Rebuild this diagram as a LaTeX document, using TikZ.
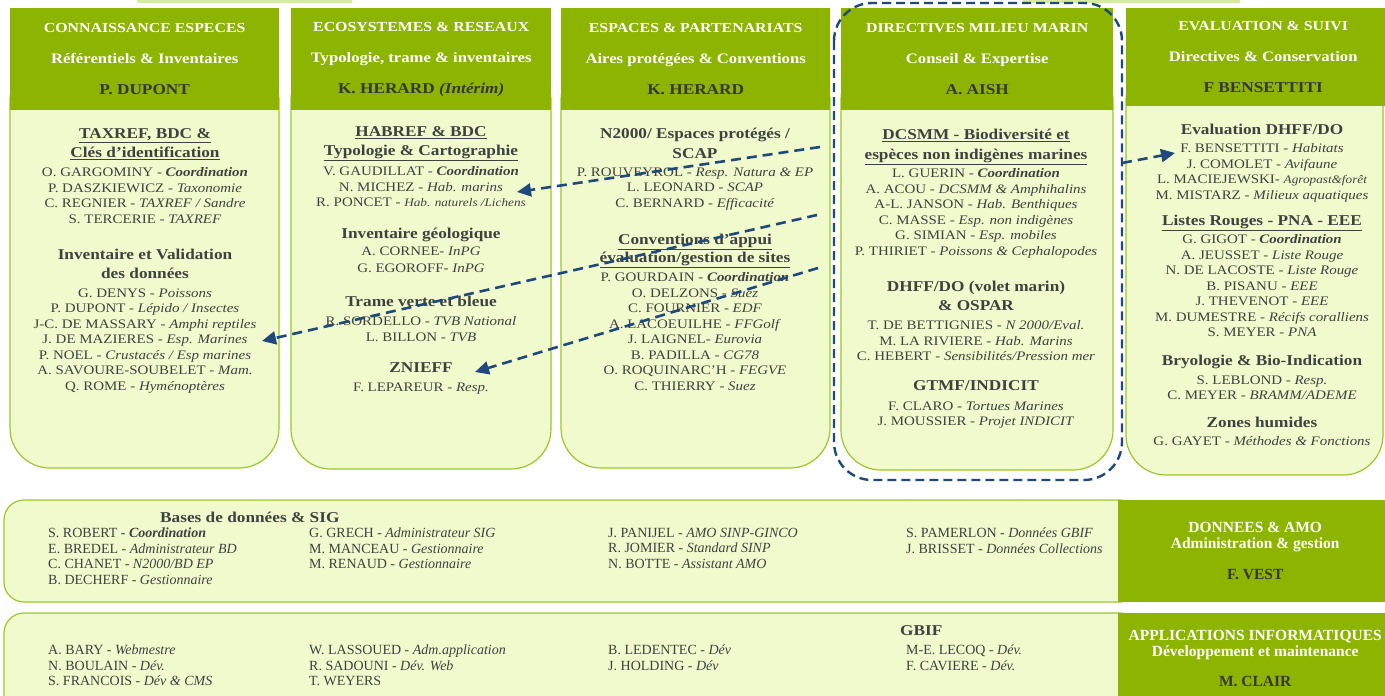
\documentclass[tikz,border=0pt]{standalone}
\usepackage{fontspec}
\setmainfont{Liberation Serif}[FakeStretch=1.15]
\newfontfamily\condfont{Liberation Serif}
\usepackage{tikz}
\usetikzlibrary{arrows.meta}

\definecolor{hdrgreen}{RGB}{140,180,0}
\definecolor{bodyfill}{RGB}{241,250,204}
\definecolor{bodyline}{RGB}{155,200,40}
\definecolor{txtgray}{RGB}{64,64,64}
\definecolor{chef}{RGB}{55,55,55}
\definecolor{linkblue}{RGB}{31,73,125}
\definecolor{topbar}{RGB}{215,235,160}

% en-tete de pole : titre, sous-titre, responsable
\newcommand\entete[3]{{\fontsize{13.8}{17}\selectfont #1}\\[14pt]{\fontsize{14.5}{17}\selectfont #2}\\[14pt]{\color{chef}\fontsize{15}{17}\selectfont #3}}

\begin{document}
\begin{tikzpicture}[x=1pt,y=-1pt,
  hdr/.style={fill=hdrgreen,text=white,font=\bfseries\fontsize{14.5}{17}\selectfont,align=center,inner sep=0pt,anchor=north west,minimum height=102pt},
  body/.style={fill=bodyfill,draw=bodyline,line width=1.2pt,rounded corners=40pt},
  titre/.style={text=txtgray,font=\bfseries\fontsize{15}{19}\selectfont,align=center,anchor=north,inner sep=0pt},
  noms/.style={text=txtgray,font=\fontsize{13}{15.5}\selectfont,align=center,anchor=north,inner sep=0pt},
  liste/.style={text=txtgray,font=\condfont\fontsize{14}{15.5}\selectfont,align=left,anchor=north west,inner sep=0pt},
  sstitre/.style={text=txtgray,font=\bfseries\fontsize{15}{18}\selectfont,anchor=west,inner sep=0pt},
  lien/.style={draw=linkblue,line width=2.6pt,dash pattern=on 10pt off 6pt,-{Triangle[length=14pt,width=13pt]}},
  cadre/.style={draw=linkblue,line width=2.4pt,dash pattern=on 9pt off 5pt,rounded corners=38pt}]
\useasboundingbox (0,0) rectangle (1385,696);
\clip (0,0) rectangle (1385,696);

% bandeaux du haut
\fill[topbar] (137,0) rectangle (352,2.5);
\fill[topbar] (1023,0) rectangle (1240,2.5);

% corps des poles
\draw[body] (10,60) rectangle (279,468);
\draw[body] (291,60) rectangle (551,469);
\draw[body] (561,60) rectangle (830,468);
\draw[body] (841,60) rectangle (1113,470);
\draw[body] (1126,60) rectangle (1383,475);

% en-tetes
\node[hdr,minimum width=269pt] (h1) at (10,8) {\entete{CONNAISSANCE ESPECES}{Référentiels \& Inventaires}{P. DUPONT}};
\node[hdr,minimum width=260pt] (h2) at (291,8) {\entete{ECOSYSTEMES \& RESEAUX}{Typologie, trame \& inventaires}{K. HERARD \textit{(Intérim)}}};
\node[hdr,minimum width=269pt] (h3) at (561,8) {\entete{ESPACES \& PARTENARIATS}{Aires protégées \& Conventions}{K. HERARD}};
\node[hdr,minimum width=272pt] (h4) at (841,8) {\entete{DIRECTIVES MILIEU MARIN}{Conseil \& Expertise}{A. AISH}};
\node[hdr,minimum width=274pt,minimum height=98pt] (h5) at (1126,8) {\entete{EVALUATION \& SUIVI}{Directives \& Conservation}{F BENSETTITI}};

% connaissance especes
\node[titre] (c1t1) at (145,128.6) {\underline{TAXREF, BDC \&}\\\underline{Clés d’identification}};
\node[noms] (c1n1) at (145,167.3) {O. GARGOMINY - \textbf{\textit{Coordination}}\\P. DASZKIEWICZ - \textit{Taxonomie}\\C. REGNIER - \textit{TAXREF / Sandre}\\S. TERCERIE - \textit{TAXREF}};
\node[titre] (c1t2) at (145,248.6) {Inventaire et Validation\\des données};
\node[noms] (c1n2) at (145,288.3) {G. DENYS - \textit{Poissons}\\P. DUPONT - \textit{Lépido / Insectes}\\J-C. DE MASSARY - \textit{Amphi reptiles}\\J. DE MAZIERES - \textit{Esp. Marines}\\P. NOEL - \textit{Crustacés / Esp marines}\\A. SAVOURE-SOUBELET - \textit{Mam.}\\Q. ROME - \textit{Hyménoptères}};

% ecosystemes et reseaux
\node[titre] (c2t1) at (421,126.6) {\underline{HABREF \& BDC}\\\underline{Typologie \& Cartographie}};
\node[noms] (c2n1) at (421,166.3) {V. GAUDILLAT - \textbf{\textit{Coordination}}\\N. MICHEZ - \textit{Hab. marins}\\R. PONCET - {\fontsize{11.5}{15.5}\selectfont\itshape Hab. naturels /Lichens}};
\node[titre] (c2t2) at (421,227.6) {Inventaire géologique};
\node[noms,font=\fontsize{13}{17}\selectfont] (c2n2) at (421,246.3) {A. CORNEE- \textit{InPG}\\G. EGOROFF- \textit{InPG}};
\node[titre] (c2t3) at (421,295.6) {Trame verte et bleue};
\node[noms,font=\fontsize{13}{16}\selectfont] (c2n3) at (421,316.3) {R. SORDELLO - \textit{TVB National}\\L. BILLON - \textit{TVB}};
\node[titre] (c2t4) at (421,362.6) {ZNIEFF};
\node[noms] (c2n4) at (421,382.3) {F. LEPAREUR - \textit{Resp.}};

% espaces et partenariats
\node[titre,font=\bfseries\fontsize{15}{20}\selectfont] (c3t1) at (695,127.6) {N2000/ Espaces protégés /\\SCAP};
\node[noms] (c3n1) at (695,167.3) {P. ROUVEYROL - \textit{Resp. Natura \& EP}\\L. LEONARD - \textit{SCAP}\\C. BERNARD - \textit{Efficacité}};
\node[titre,font=\bfseries\fontsize{15}{18}\selectfont] (c3t2) at (695,233.6) {\underline{Conventions d’appui}\\\underline{évaluation/gestion de sites}};
\node[noms] (c3n2) at (695,272.3) {P. GOURDAIN - \textbf{\textit{Coordination}}\\O. DELZONS - \textit{Suez}\\C. FOURNIER -  \textit{EDF}\\A. LACOEUILHE - \textit{FFGolf}\\J. LAIGNEL- \textit{Eurovia}\\B. PADILLA - \textit{CG78}\\O. ROQUINARC’H - \textit{FEGVE}\\C. THIERRY - \textit{Suez}};

% directives milieu marin
\node[titre,font=\bfseries\fontsize{15}{20}\selectfont] (c4t1) at (976,128.6) {\underline{DCSMM - Biodiversité et}\\\underline{espèces non indigènes marines}};
\node[noms] (c4n1) at (976,168.3) {L. GUERIN - \textbf{\textit{Coordination}}\\A. ACOU - \textit{DCSMM \& Amphihalins}\\A-L. JANSON - \textit{Hab. Benthiques}\\C. MASSE - \textit{Esp. non indigènes}\\G. SIMIAN - \textit{Esp. mobiles}\\P. THIRIET - \textit{Poissons \& Cephalopodes}};
\node[titre] (c4t2) at (976,280.6) {DHFF/DO (volet marin)\\\& OSPAR};
\node[noms] (c4n2) at (976,320.3) {T. DE BETTIGNIES - \textit{N 2000/Eval.}\\M. LA RIVIERE - \textit{Hab. Marins}\\C. HEBERT - \textit{Sensibilités/Pression mer}};
\node[titre] (c4t3) at (976,380.6) {GTMF/INDICIT};
\node[noms] (c4n3) at (976,401.3) {F. CLARO - \textit{Tortues Marines}\\J. MOUSSIER - \textit{Projet INDICIT}};

% evaluation et suivi
\node[titre] (c5t1) at (1262,123.6) {Evaluation DHFF/DO};
\node[noms] (c5n1) at (1262,143.3) {F. BENSETTITI - \textit{Habitats}\\J. COMOLET - \textit{Avifaune}\\L. MACIEJEWSKI- {\fontsize{11.5}{15.5}\selectfont\itshape Agropast\&forêt}\\M. MISTARZ  - \textit{Milieux aquatiques}};
\node[titre] (c5t2) at (1262,214.6) {\underline{Listes Rouges - PNA - EEE}};
\node[noms] (c5n2) at (1262,234.3) {G. GIGOT - \textbf{\textit{Coordination}}\\A. JEUSSET - \textit{Liste Rouge}\\N. DE LACOSTE - \textit{Liste Rouge}\\B. PISANU - \textit{EEE}\\J. THEVENOT - \textit{EEE}\\M. DUMESTRE -  \textit{Récifs coralliens}\\S. MEYER - \textit{PNA}};
\node[titre] (c5t3) at (1262,354.6) {Bryologie \& Bio-Indication};
\node[noms] (c5n3) at (1262,375.3) {S. LEBLOND - \textit{Resp.}\\C. MEYER - \textit{BRAMM/ADEME}};
\node[titre] (c5t4) at (1262,416.6) {Zones humides};
\node[noms] (c5n4) at (1262,436.3) {G. GAYET - \textit{Méthodes \& Fonctions}};

% donnees et AMO
\draw[body,rounded corners=20pt] (4,500) rectangle (1140,602);
\node[hdr,minimum width=274pt,font=\condfont\bfseries\fontsize{15.5}{16}\selectfont] (amo) at (1118,500) {DONNEES \& AMO\\Administration \& gestion\\[15pt]{\color{chef}F. VEST}};
\node[sstitre] (bdd) at (160,517) {Bases de données \& SIG};
\node[liste] (bdd1) at (48,528) {S. ROBERT - \textbf{\textit{Coordination}}\\E. BREDEL - \textit{Administrateur BD}\\C. CHANET - \textit{N2000/BD EP}\\B. DECHERF - \textit{Gestionnaire}};
\node[liste] (bdd2) at (309,528) {G. GRECH - \textit{Administrateur SIG}\\M. MANCEAU - \textit{Gestionnaire}\\M. RENAUD - \textit{Gestionnaire}};
\node[liste] (bdd3) at (608,528) {J. PANIJEL - \textit{AMO SINP-GINCO}\\R. JOMIER - \textit{Standard SINP}\\N. BOTTE - \textit{Assistant AMO}};
\node[liste] (bdd4) at (906,528) {S. PAMERLON - \textit{Données GBIF}\\J. BRISSET - \textit{Données Collections}};

% applications informatiques
\draw[body,rounded corners=20pt] (4,613) rectangle (1140,720);
\node[hdr,minimum width=274pt,minimum height=90pt,font=\condfont\bfseries\fontsize{15.5}{16}\selectfont] (appli) at (1118,613) {APPLICATIONS INFORMATIQUES\\Développement et maintenance\\[14pt]{\color{chef}M. CLAIR}};
\node[liste] (app1) at (48,645) {A. BARY - \textit{Webmestre}\\N. BOULAIN - \textit{Dév.}\\S. FRANCOIS - \textit{Dév \& CMS}};
\node[liste] (app2) at (309,645) {W. LASSOUED - \textit{Adm.application}\\R. SADOUNI - \textit{Dév. Web}\\T. WEYERS};
\node[liste] (app3) at (608,645) {B. LEDENTEC - \textit{Dév}\\J. HOLDING - \textit{Dév}};
\node[sstitre] (gbif) at (900,631) {GBIF};
\node[liste] (app4) at (906,645) {M-E. LECOQ - \textit{Dév.}\\F. CAVIERE - \textit{Dév.}};

% cadre milieu marin et liens
\draw[cadre] (834,3) rectangle (1122,480);
\coordinate (d1) at (820,147);
\coordinate (d2) at (817,215);
\coordinate (d3) at (818,268);
\coordinate (d4) at (1122,163);
\coordinate (michez) at (517,192);
\coordinate (mazieres) at (262,341);
\coordinate (znieff) at (475,372);
\coordinate (bensettiti) at (1175,153);
\draw[lien] (d1) -- (michez);
\draw[lien] (d2) -- (mazieres);
\draw[lien] (d3) -- (znieff);
\draw[lien] (d4) -- (bensettiti);
\end{tikzpicture}
\end{document}
